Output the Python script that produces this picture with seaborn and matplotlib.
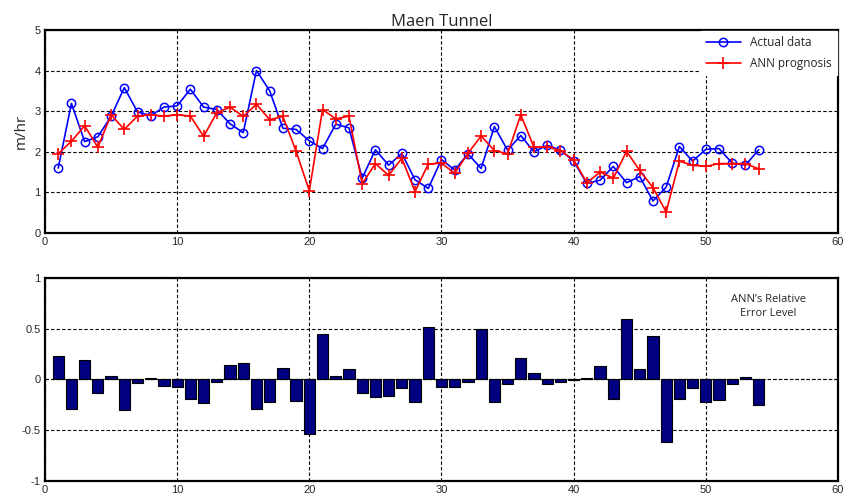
import numpy as np
import pandas as pd
import matplotlib
matplotlib.use("Agg")
import matplotlib.pyplot as plt
import seaborn as sns

# Values
sample = list(range(1, 55))
actual = [1.60, 3.19, 2.25, 2.37, 2.87, 3.58, 2.98, 2.89, 3.10, 3.13,
          3.54, 3.10, 3.04, 2.69, 2.47, 4.00, 3.50, 2.58, 2.55, 2.27,
          2.08, 2.68, 2.59, 1.35, 2.05, 1.67, 1.96, 1.31, 1.10, 1.81,
          1.55, 1.95, 1.59, 2.62, 2.04, 2.40, 2.00, 2.16, 2.04, 1.77,
          1.22, 1.30, 1.64, 1.24, 1.39, 0.79, 1.13, 2.13, 1.77, 2.06,
          2.08, 1.72, 1.67, 2.05]
prognosis = [1.95, 2.26, 2.64, 2.11, 2.91, 2.55, 2.88, 2.91, 2.88, 2.91,
             2.88, 2.38, 2.96, 3.10, 2.87, 3.17, 2.79, 2.87, 2.01, 1.04,
             3.04, 2.81, 2.88, 1.21, 1.71, 1.42, 1.84, 1.02, 1.70, 1.72,
             1.47, 1.96, 2.39, 2.03, 1.95, 2.91, 2.11, 2.12, 2.03, 1.80,
             1.24, 1.50, 1.35, 2.01, 1.54, 1.12, 0.52, 1.77, 1.67, 1.64,
             1.71, 1.71, 1.71, 1.58]
rel_error = [0.23, -0.29, 0.19, -0.13, 0.03, -0.30, -0.03, 0.01, -0.06, -0.07,
             -0.19, -0.23, -0.02, 0.14, 0.16, -0.29, -0.22, 0.11, -0.21, -0.54,
             0.45, 0.03, 0.10, -0.13, -0.17, -0.16, -0.08, -0.22, 0.52, -0.07,
             -0.07, -0.02, 0.50, -0.22, -0.04, 0.21, 0.06, -0.04, -0.02, -0.01,
             0.01, 0.13, -0.19, 0.60, 0.10, 0.43, -0.62, -0.19, -0.08, -0.22,
             -0.20, -0.04, 0.02, -0.25]

df = pd.DataFrame({"n": sample, "actual": actual, "ann": prognosis, "err": rel_error})

sns.set_style("white")
plt.rcParams["font.family"] = ["Liberation Sans", "DejaVu Sans"]

fig = plt.figure(figsize=(8.49, 4.98), dpi=100)
ax1 = fig.add_axes([0.053, 0.532, 0.934, 0.408])
ax2 = fig.add_axes([0.053, 0.034, 0.934, 0.408])

# Top panel: actual vs ANN
sns.lineplot(data=df, x="n", y="actual", ax=ax1, color="blue", lw=1.2,
             marker="o", markersize=6, markerfacecolor="none",
             markeredgecolor="blue", markeredgewidth=1.1, label="Actual data")
sns.lineplot(data=df, x="n", y="ann", ax=ax1, color="red", lw=1.2,
             marker="+", markersize=8, markeredgewidth=1.2,
             markeredgecolor="red", label="ANN prognosis")
ax1.set_xlim(0, 60)
ax1.set_ylim(0, 5)
ax1.set_yticks(range(0, 6))
ax1.set_xlabel("")
ax1.set_ylabel("m/hr", fontsize=11, family=["Open Sans", "DejaVu Sans"])
ax1.set_title("Maen Tunnel", fontsize=12, family=["Open Sans", "DejaVu Sans"], pad=3)
leg = ax1.legend(loc="upper right", frameon=True, fancybox=False, edgecolor="white",
                 borderaxespad=0.1, handlelength=3, labelspacing=0.7,
                 prop={"family": ["Open Sans", "DejaVu Sans"], "size": 8.5})
leg.get_frame().set_alpha(1)

# Bottom panel: relative error bars
sns.barplot(data=df, x="n", y="err", ax=ax2, native_scale=True, width=0.85,
            color="#000080", saturation=1, edgecolor="black", linewidth=0.8)
ax2.axhline(0, color="black", lw=0.8, ls=(0, (3, 2)), zorder=0.5)
ax2.set_xlim(0, 60)
ax2.set_ylim(-1, 1)
ax2.set_yticks([-1, -0.5, 0, 0.5, 1])
ax2.set_yticklabels(["-1", "-0.5", "0", "0.5", "1"])
ax2.set_xlabel("")
ax2.set_ylabel("")
ax2.text(0.912, 0.86, "ANN\u2019s Relative\nError Level", transform=ax2.transAxes,
         ha="center", va="center", fontsize=8, linespacing=1.4,
         family=["Open Sans", "DejaVu Sans"])

for ax in (ax1, ax2):
    ax.set_xticks(range(0, 61, 10))
    ax.grid(True, color="black", ls=(0, (3, 2)), lw=0.8)
    ax.set_axisbelow(True)
    ax.tick_params(labelsize=8, length=0, pad=3)
    for s in ax.spines.values():
        s.set_color("black")
        s.set_linewidth(1.6)

fig.savefig("out.png", dpi=100)
